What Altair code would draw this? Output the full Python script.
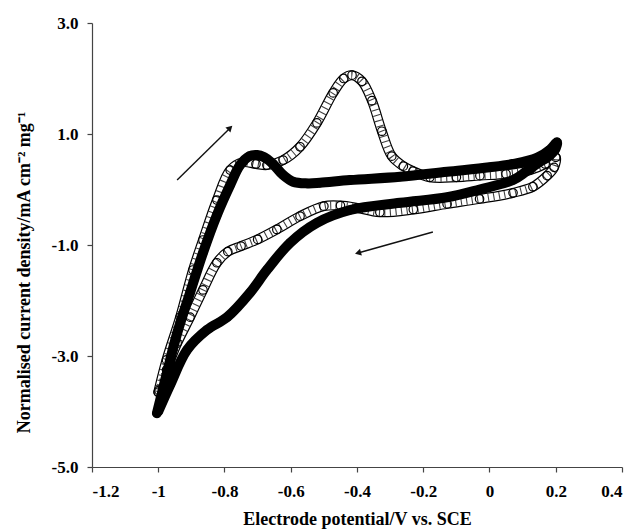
import math
import altair as alt
import pandas as pd

# Cyclic voltammograms: potential (V vs. SCE) and normalised current density (mA cm-2 mg-1)
# First scan (open circles): forward sweep -1.0 -> 0.2 V, then reverse back to -1.0 V
open_v = [-1.000, -0.975, -0.934, -0.895, -0.865, -0.823, -0.783, -0.745, -0.705, -0.672,
          -0.623, -0.572, -0.521, -0.472, -0.440, -0.415, -0.385, -0.355, -0.325, -0.295,
          -0.260, -0.231, -0.180, -0.100, -0.029, 0.050, 0.122, 0.168, 0.200,
          0.195, 0.174, 0.131, 0.071, -0.030, -0.128, -0.230, -0.331, -0.400, -0.450,
          -0.500, -0.572, -0.642, -0.700, -0.750, -0.790, -0.823, -0.865, -0.904, -0.943,
          -0.975, -0.998]
open_i = [-3.65, -3.07, -2.30, -1.45, -0.91, -0.19, 0.35, 0.49, 0.46, 0.44,
          0.53, 0.77, 1.20, 1.74, 2.00, 2.06, 1.95, 1.60, 1.05, 0.60,
          0.42, 0.33, 0.22, 0.22, 0.25, 0.28, 0.35, 0.46, 0.58,
          0.40, 0.25, 0.05, -0.06, -0.17, -0.26, -0.36, -0.41, -0.33, -0.29,
          -0.30, -0.48, -0.72, -0.90, -1.02, -1.12, -1.32, -1.81, -2.30, -2.77,
          -3.25, -3.62]

# Second scan (filled circles)
filled_v = [-1.004, -0.974, -0.943, -0.904, -0.865, -0.823, -0.783, -0.753, -0.725, -0.702,
            -0.680, -0.655, -0.623, -0.593, -0.550, -0.512, -0.421, -0.270, -0.128, 0.000,
            0.071, 0.143, 0.183, 0.204,
            0.198, 0.175, 0.152, 0.110, 0.071, -0.030, -0.128, -0.270, -0.421, -0.521,
            -0.602, -0.672, -0.723, -0.792, -0.853, -0.913, -0.964, -1.000]
filled_i = [-4.03, -3.31, -2.59, -1.86, -1.14, -0.46, 0.08, 0.44, 0.60, 0.62,
            0.58, 0.47, 0.26, 0.14, 0.11, 0.12, 0.17, 0.23, 0.32, 0.40,
            0.46, 0.57, 0.72, 0.85,
            0.72, 0.58, 0.50, 0.32, 0.17, 0.00, -0.14, -0.24, -0.37, -0.60,
            -0.96, -1.45, -1.86, -2.30, -2.53, -2.89, -3.52, -4.00]

# Sweep-direction arrows: tail -> head
arrow_v = [(-0.943, -0.783), (-0.171, -0.397)]
arrow_i = [(0.17, 1.11), (-0.766, -1.144)]

x_ticks = [-1.2, -1.0, -0.8, -0.6, -0.4, -0.2, 0.0, 0.2, 0.4]
y_ticks = [-5.0, -3.0, -1.0, 1.0, 3.0]

W, H = 530, 444
X_DOM, Y_DOM = [-1.2, 0.4], [-5.0, 3.0]

open_df = pd.DataFrame({"V": open_v, "I": open_i, "k": range(len(open_v))})
filled_df = pd.DataFrame({"V": filled_v, "I": filled_i, "k": range(len(filled_v))})

arrow_rows, head_rows = [], []
for n, (vv, ii) in enumerate(zip(arrow_v, arrow_i)):
    for j in range(2):
        arrow_rows.append({"V": vv[j], "I": ii[j], "a": n, "k": j})
    dx = (vv[1] - vv[0]) * W / (X_DOM[1] - X_DOM[0])
    dy = -(ii[1] - ii[0]) * H / (Y_DOM[1] - Y_DOM[0])
    ang = math.degrees(math.atan2(dx, -dy)) % 360
    head_rows.append({"V": vv[1], "I": ii[1], "ang": ang})
arrow_df = pd.DataFrame(arrow_rows)
head_df = pd.DataFrame(head_rows)

FONT = "Liberation Serif"

x_enc = alt.X(
    "V:Q",
    scale=alt.Scale(domain=X_DOM, nice=False, zero=False),
    axis=alt.Axis(
        values=x_ticks, grid=False, tickSize=5, labelPadding=11,
        labelExpr="'' + datum.value",
        title="Electrode potential/V vs. SCE",
        titleX=W / 2, titleY=52, titleBaseline="middle",
    ),
)
y_enc = alt.Y(
    "I:Q",
    scale=alt.Scale(domain=Y_DOM, nice=False, zero=False),
    axis=alt.Axis(
        values=y_ticks, grid=False, tickSize=5, labelPadding=9,
        labelExpr="replace(format(datum.value, '.1f'), '\u2212', '-')",
        title="Normalised current density/mA cm\u207b\u00b2 mg\u207b\u00b9",
        titleX=-68, titleY=H / 2 + 27, titleAngle=-90, titleAlign="center",
        titleBaseline="middle",
    ),
)

line_kw = dict(interpolate="catmull-rom", strokeJoin="round")

# open-circle trace: hollow tube with closely spaced ring edges across it
open_outer = alt.Chart(open_df).mark_line(
    color="black", strokeWidth=10, strokeCap="round", **line_kw).encode(
    x=x_enc, y=y_enc, order="k:Q")
open_inner = alt.Chart(open_df).mark_line(
    color="white", strokeWidth=7.6, strokeCap="round", **line_kw).encode(
    x="V:Q", y="I:Q", order="k:Q")
open_hatch = alt.Chart(open_df).mark_line(
    color="black", strokeWidth=7.6, strokeDash=[1.1, 4.4], strokeCap="butt",
    opacity=0.75, **line_kw).encode(x="V:Q", y="I:Q", order="k:Q")
open_pts = alt.Chart(open_df).mark_point(
    shape="circle", size=72, filled=False, stroke="black",
    strokeWidth=1.2, opacity=1).encode(x="V:Q", y="I:Q")

filled_line = alt.Chart(filled_df).mark_line(
    color="black", strokeWidth=10, strokeCap="round", **line_kw).encode(
    x="V:Q", y="I:Q", order="k:Q")
filled_pts = alt.Chart(filled_df).mark_circle(size=85, color="black", opacity=1).encode(
    x="V:Q", y="I:Q")

arrows = alt.Chart(arrow_df).mark_line(color="#111", strokeWidth=1.4).encode(
    x="V:Q", y="I:Q", detail="a:N", order="k:Q")
heads = alt.Chart(head_df).mark_point(
    shape="triangle-up", size=50, filled=True, color="#111", opacity=1).encode(
    x="V:Q", y="I:Q", angle=alt.Angle("ang:Q", scale=None))

chart = alt.layer(
    open_outer, open_inner, open_hatch, open_pts, filled_line, filled_pts, arrows, heads
).properties(
    width=W, height=H,
    padding={"left": 92, "top": 23, "right": 12, "bottom": 65},
    autosize=alt.AutoSizeParams(type="none"),
    background="white",
).configure_view(
    stroke=None
).configure_axis(
    labelFont=FONT, titleFont=FONT, labelFontSize=17, titleFontSize=18,
    labelFontWeight="bold", titleFontWeight="bold",
    labelColor="black", titleColor="black",
    domainColor="#444", tickColor="#444", domainWidth=1.2, tickWidth=1.2,
)

chart.save("out.html", embed_options={"renderer": "svg", "actions": False})
